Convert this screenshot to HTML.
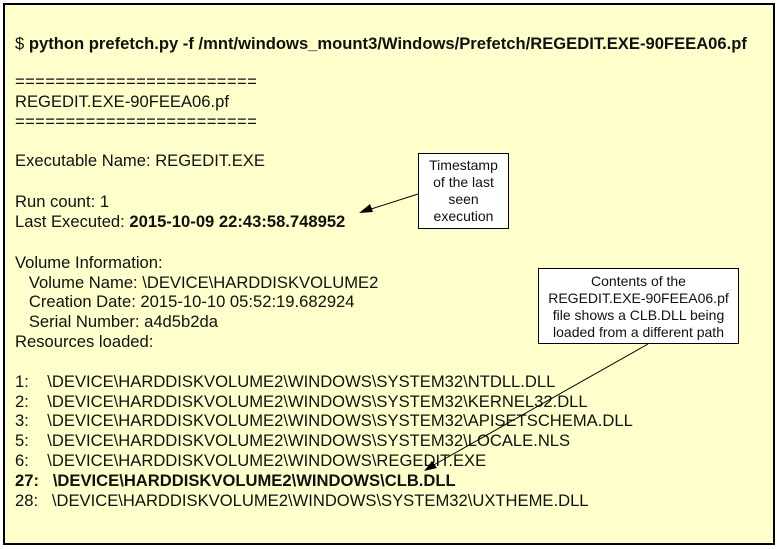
<!DOCTYPE html>
<html><head><style>
body{margin:0;width:777px;height:549px;background:#fff;position:relative;overflow:hidden;font-family:"Liberation Sans",Arial,sans-serif;}
.main{position:absolute;left:3px;top:3px;width:768px;height:538px;background:#ffffcc;border:2px solid #000;}
.t{position:absolute;left:15px;font-size:16.6px;color:#111;white-space:pre;line-height:20px;}
.c{position:absolute;background:#fff;border:1px solid #000;font-size:14px;line-height:17px;text-align:center;color:#111;box-sizing:border-box;white-space:nowrap;}
b{font-weight:bold;}
.eq{letter-spacing:0.4px;}
</style></head><body>
<div class="main"></div>
<div class="t" style="top:34px">$ <b>python prefetch.py -f /mnt/windows_mount3/Windows/Prefetch/REGEDIT.EXE-90FEEA06.pf</b></div>
<div class="t eq" style="top:72px">========================</div>
<div class="t" style="top:92px">REGEDIT.EXE-90FEEA06.pf</div>
<div class="t eq" style="top:112px">========================</div>
<div class="t" style="top:151px">Executable Name: REGEDIT.EXE</div>
<div class="t" style="top:192px">Run count: 1</div>
<div class="t" style="top:212px">Last Executed: <b>2015-10-09 22:43:58.748952</b></div>
<div class="t" style="top:253px">Volume Information:</div>
<div class="t" style="top:273px">   Volume Name: \DEVICE\HARDDISKVOLUME2</div>
<div class="t" style="top:292px">   Creation Date: 2015-10-10 05:52:19.682924</div>
<div class="t" style="top:312px">   Serial Number: a4d5b2da</div>
<div class="t" style="top:332px">Resources loaded:</div>
<div class="t" style="top:372px">1:    \DEVICE\HARDDISKVOLUME2\WINDOWS\SYSTEM32\NTDLL.DLL</div>
<div class="t" style="top:392px">2:    \DEVICE\HARDDISKVOLUME2\WINDOWS\SYSTEM32\KERNEL32.DLL</div>
<div class="t" style="top:411px">3:    \DEVICE\HARDDISKVOLUME2\WINDOWS\SYSTEM32\APISETSCHEMA.DLL</div>
<div class="t" style="top:431px">5:    \DEVICE\HARDDISKVOLUME2\WINDOWS\SYSTEM32\LOCALE.NLS</div>
<div class="t" style="top:451px">6:    \DEVICE\HARDDISKVOLUME2\WINDOWS\REGEDIT.EXE</div>
<div class="t" style="top:471px"><b>27:   \DEVICE\HARDDISKVOLUME2\WINDOWS\CLB.DLL</b></div>
<div class="t" style="top:491px">28:   \DEVICE\HARDDISKVOLUME2\WINDOWS\SYSTEM32\UXTHEME.DLL</div>
<div class="c" style="left:418px;top:153px;width:91px;height:76px;padding-top:3px">Timestamp<br>of the last<br>seen<br>execution</div>
<div class="c" style="left:538px;top:268px;width:201px;height:76px;padding-top:4px">Contents of the<br>REGEDIT.EXE-90FEEA06.pf<br>file shows a CLB.DLL being<br>loaded from a different path</div>
<svg width="777" height="549" style="position:absolute;left:0;top:0">
<line x1="418" y1="194" x2="368" y2="210" stroke="#000" stroke-width="1"/>
<polygon points="359,213 370,204 373,212" fill="#000"/>
<line x1="648" y1="344" x2="432" y2="466" stroke="#000" stroke-width="1"/>
<polygon points="424,471 432,461 437,468" fill="#000"/>
</svg>
</body></html>
